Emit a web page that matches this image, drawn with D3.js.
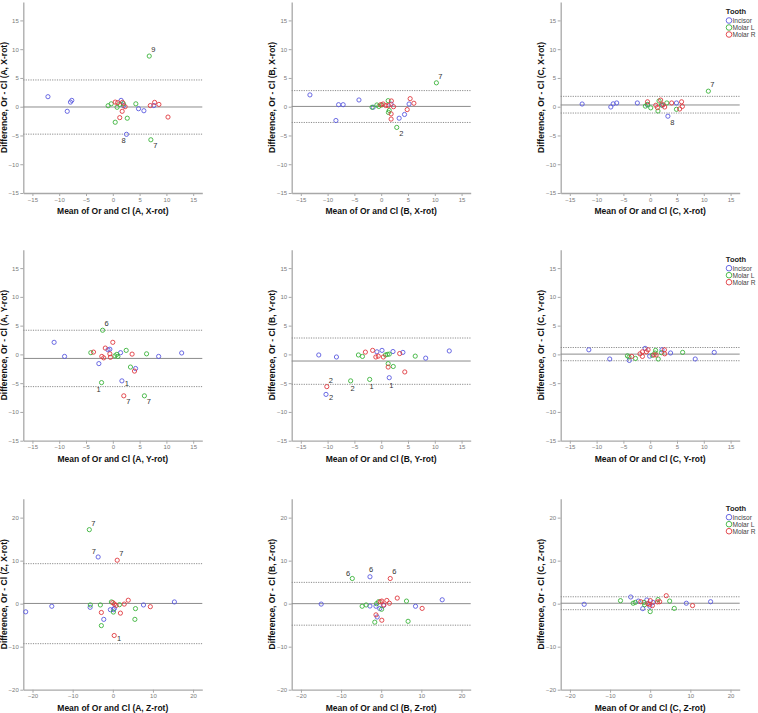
<!DOCTYPE html>
<html><head><meta charset="utf-8">
<script src="https://cdn.jsdelivr.net/npm/d3@7"></script>
<style>body{margin:0;background:#fff}svg{display:block}</style>
</head><body>
<svg id="chart" width="758" height="713"></svg>
<script>
// ---- data ----
const panelIds = ["A, X-rot","B, X-rot","C, X-rot","A, Y-rot","B, Y-rot","C, Y-rot","A, Z-rot","B, Z-rot","C, Z-rot"];
const xLabels = panelIds.map(p => "Mean of Or and Cl (" + p + ")");
const yLabels = ["Difference, Or - Cl (A, X-rot)","Difference, Or - Cl (B, X-rot)","Difference, Or - Cl (C, X-rot)",
  "Difference, Or - Cl (A, Y-rot)","Difference, Or - Cl (B, Y-rot)","Difference, Or - Cl (C, Y-rot)",
  "Difference, Or - Cl (Z, X-rot)","Difference, Or - Cl (B, Z-rot)","Difference, Or - Cl (C, Z-rot)"];
const meanDiff = [-0.05, 0.05, 0.3, -0.7, -1.15, 0.05, 0.05, 0.0, 0.1];
const upperLoA = [4.65, 2.8, 1.8, 4.2, 2.85, 1.2, 9.3, 4.95, 1.6];
const lowerLoA = [-4.77, -2.74, -1.1, -5.6, -5.2, -1.1, -9.3, -5.0, -1.4];
const ticksXY = [-15, -10, -5, 0, 5, 10, 15];
const ticksZ = [-20, -10, 0, 10, 20];
const toothNames = ["Incisor", "Molar L", "Molar R"];

// [mean, difference, optional case label, label side]
const incisorAX = [[-12.1,1.74],[-8.5,-0.8],[-7.9,0.8],[-7.65,1.1],[1.55,1.1],[2.0,0.2],[2.55,-4.8,"8","sw"],[4.8,-0.35],[5.8,-0.7],[7.65,0.2]];
const molarLAX = [[6.8,8.8,"9","ne"],[-0.87,0.17],[-0.3,0.5],[0.8,-0.1],[0.45,-2.7],[2.7,-2.0],[4.3,0.5],[7.1,-5.75,"7","se"],[1.3,0.4],[2.0,0.5]];
const molarRAX = [[0.45,0.8],[0.9,0.7],[1.8,0.75],[1.75,-0.8],[1.3,-1.9],[2.3,0],[7.0,0.2],[7.8,0.75],[8.6,0.4],[10.3,-1.8]];

const incisorBX = [[-13.3,2.05],[-8.45,-2.4],[-7.95,0.35],[-7.1,0.35],[-4.15,1.17],[-1.5,-0.1],[1.85,0.45],[5.2,0.47],[4.35,-1.35],[3.35,-2.0]];
const molarLBX = [[10.3,4.15,"7","ne"],[2.9,-3.6,"2","se"],[-1.7,-0.1],[-0.8,0.3],[-0.45,0.05],[1.3,1.05],[1.5,-0.65],[1.35,-1.0],[0.1,0.3]];
const molarRBX = [[-0.1,0.35],[0.35,0.47],[0.85,0.2],[1.9,1.0],[1.85,-1.25],[1.85,-2.15],[2.3,0],[5.4,1.4],[6.1,0.6],[4.85,-0.5],[1.35,0.2]];

const incisorCX = [[-12.7,0.47],[-7.35,-0.05],[-6.9,0.5],[-6.25,0.65],[-2.4,0.65],[2.25,0.25],[3.3,-1.65,"8","se"],[4.9,0.65],[-0.5,0.3]];
const molarLCX = [[10.85,2.7,"7","ne"],[-0.9,0.1],[-0.5,0.4],[0.1,-0.2],[1.45,-0.75],[1.65,1.0],[3.1,0.65],[4.9,-0.45],[2.1,0.3]];
const molarRCX = [[-0.5,0.85],[1.05,0.25],[1.35,-0.15],[1.95,1.15],[2.7,-0.05],[4.0,0.65],[5.85,0.85],[6.0,0.05],[5.5,-0.4],[2.4,0.35]];

const incisorAY = [[-10.95,2.1],[-9.0,-0.35],[-2.6,-1.6],[-0.9,0.8],[-0.55,0.9],[1.45,0.3],[1.7,-4.6,"1","e"],[4.25,-2.45],[8.55,-0.35],[12.85,0.25]];
const molarLAY = [[-1.9,4.2,"6","ne"],[-4.1,0.3],[-2.1,-4.9,"1","sw"],[0.4,-0.25],[0.75,0.0],[0.95,-0.35],[2.5,0.7],[3.3,-2.2],[6.3,0.1],[5.9,-7.2,"7","se"]];
const molarRAY = [[-3.6,0.4],[-2.05,-0.35],[-1.7,-0.6],[-1.4,1.1],[-0.55,0.1],[-0.45,-0.5],[0,2.1],[2.05,-7.2,"7","se"],[3.6,0.05],[4.05,-2.9]];

const incisorBY = [[-11.65,-0.1],[-8.35,-0.45],[-10.3,-6.95,"2","e"],[-0.8,0.45],[0.15,0.7],[2.2,0.5],[1.5,-4.05,"1","s"],[4.05,0.35],[8.3,-0.65],[12.7,0.6]];
const molarLBY = [[-5.7,-4.6,"2","s"],[-4.25,-0.1],[-3.5,-0.35],[-2.15,-4.35,"1","s"],[0.8,-0.1],[1.15,0],[1.3,-1.6],[2.25,-2.1],[6.35,-0.3],[1.5,0.05]];
const molarRBY = [[-10.15,-5.6,"2","ne"],[-2.95,0.4],[-1.6,0.7],[-1.0,-0.45],[-0.55,-0.3],[0.4,-0.45],[1.3,-2.2],[3.45,0.15],[4.4,-3.05]];

const incisorCY = [[-11.45,0.8],[-7.55,-0.8],[-3.9,-1.05],[-0.95,1.05],[-0.1,-0.3],[2.2,0.8],[3.8,0.25],[8.4,-0.8],[11.95,0.35]];
const molarLCY = [[-4.25,-0.25],[-3.95,-0.45],[-2.75,-0.7],[0.4,-0.15],[0.9,0.25],[1.0,0.7],[1.5,-0.8],[2.1,0.3],[6.05,0.35]];
const molarRCY = [[-3.45,-0.35],[-1.9,0.1],[-1.45,0.45],[-1.45,-0.35],[-0.7,0.45],[-0.4,0.8],[0.7,-0.1],[1.1,-0.1],[2.65,0.8],[2.7,0.1]];

const incisorAZ = [[-21.7,-1.9],[-15.2,-0.6],[-5.65,-0.85],[-3.65,10.85,"7","nw"],[-2.25,-3.65],[-0.6,-1.4],[0.15,-1.4],[0.4,-1.1],[7.65,-0.3],[15.35,0.4]];
const molarLAZ = [[-5.85,17.2,"7","ne"],[-5.6,-0.3],[-3.1,-0.3],[-2.85,-5.1],[-0.35,0.4],[0.15,-1.95],[1.65,-0.25],[5.65,-1.15],[5.5,-3.65]];
const molarRAZ = [[-2.85,-2.05],[0,0.25],[0.4,-0.1],[1.1,10.1,"7","ne"],[0.35,-7.4,"1","e"],[0.85,-0.4],[1.9,-2.2],[2.85,-0.1],[3.85,0.8],[9.35,-0.7]];

const incisorBZ = [[-14.95,-0.1],[-2.8,6.25,"6","n"],[-2.8,-0.55],[-1.3,-0.6],[-1.0,-3.1],[-0.35,-1.15],[0.6,-0.4],[8.55,-0.6],[15.2,0.9]];
const molarLBZ = [[-7.2,5.85,"6","nw"],[-4.75,-0.6],[-3.75,-0.3],[-1.6,-4.3],[-1.15,0],[-0.65,0.45],[0.1,-1.3],[6.3,0.6],[6.7,-4.1]];
const molarRBZ = [[-1.3,-2.6],[-0.25,0.45],[0.15,0.6],[0.15,-3.85],[0.65,-0.3],[1.4,0.75],[2.05,0.1],[2.25,5.85,"6","ne"],[4.0,1.3],[10.2,-1.1]];

const incisorCZ = [[-16.45,-0.15],[-4.85,1.55],[-2.95,0.6],[-1.85,-1.15],[-0.85,0.85],[-0.1,-0.6],[0.7,0.3],[9.0,0.1],[15.05,0.45]];
const molarLCZ = [[-7.4,0.7],[-4.25,0.1],[-3.7,0.3],[-1.55,0.3],[-1.4,-0.25],[0,-1.85],[1.95,0.95],[4.85,0.6],[6.0,-1.1]];
const molarRCZ = [[-2.35,0.45],[-0.6,0],[-0.2,-0.15],[0.05,0.7],[0.55,-0.45],[1.8,0.4],[2.35,0.45],[4.0,1.85],[10.55,-0.45]];

const panelSeries = [
  [incisorAX, molarLAX, molarRAX], [incisorBX, molarLBX, molarRBX], [incisorCX, molarLCX, molarRCX],
  [incisorAY, molarLAY, molarRAY], [incisorBY, molarLBY, molarRBY], [incisorCY, molarLCY, molarRCY],
  [incisorAZ, molarLAZ, molarRAZ], [incisorBZ, molarLBZ, molarRBZ], [incisorCZ, molarLCZ, molarRCZ]
];

// ---- layout / style ----
const colors = ["#5a5ae0", "#3bb33b", "#e0393e"];
const colLeft = [23.3, 291.7, 560.7];
const rowBottom = [193, 440.7, 689.7];
const plotW = 179, plotH = 191;
const labelOffset = {ne:[4,-6.5], se:[4.5,6], sw:[-3,6.5], nw:[-4.3,-5], s:[2,7.5], n:[1,-7.5], e:[5,3]};
const font = "Liberation Sans, Arial, Helvetica, sans-serif";

const svg = d3.select("#chart");

panelIds.forEach((pid, i) => {
  const row = Math.floor(i / 3), col = i % 3;
  const left = colLeft[col], bottom = rowBottom[row], top = bottom - plotH;
  const isZ = row === 2;
  const x = d3.scaleLinear().domain(isZ ? [-22.3, 22.3] : [-16.7, 16.7]).range([left, left + plotW]);
  const y = d3.scaleLinear().domain(isZ ? [-20, 24.4] : [-15, 18.2]).range([bottom, top]);
  const ticks = isZ ? ticksZ : ticksXY;
  const g = svg.append("g");

  // axes
  const xa = g.append("g").attr("transform", `translate(0,${bottom})`)
    .call(d3.axisBottom(x).tickValues(ticks).tickSize(3).tickSizeOuter(0).tickPadding(1.5));
  const ya = g.append("g").attr("transform", `translate(${left},0)`)
    .call(d3.axisLeft(y).tickValues(ticks).tickSize(3).tickSizeOuter(0).tickPadding(1.5));
  [xa, ya].forEach(a => {
    a.select(".domain").attr("stroke", "#a8a8a8").attr("stroke-width", 1.3);
    a.selectAll(".tick line").attr("stroke", "#a8a8a8");
    a.selectAll(".tick text").attr("fill", "#7a7a7a").attr("font-size", 6).attr("font-family", font);
  });

  // reference lines
  const line = (v, dash) => g.append("line")
    .attr("x1", left).attr("x2", left + plotW).attr("y1", y(v)).attr("y2", y(v))
    .attr("stroke", "#8c8c8c").attr("stroke-width", 1)
    .attr("stroke-dasharray", dash);
  line(meanDiff[i], null);
  line(upperLoA[i], "1.2,1.2");
  line(lowerLoA[i], "1.2,1.2");

  // points
  panelSeries[i].forEach((series, s) => {
    g.append("g").selectAll("circle").data(series).join("circle")
      .attr("cx", d => x(d[0])).attr("cy", d => y(d[1])).attr("r", 2.1)
      .attr("fill", "none").attr("stroke", colors[s]).attr("stroke-width", 0.9);
    g.append("g").selectAll("text").data(series.filter(d => d[2])).join("text")
      .attr("x", d => x(d[0]) + labelOffset[d[3]][0])
      .attr("y", d => y(d[1]) + labelOffset[d[3]][1])
      .attr("text-anchor", "middle").attr("dominant-baseline", "central")
      .attr("font-size", 7.5).attr("font-family", font).attr("fill", "#333")
      .text(d => d[2]);
  });

  // axis titles
  g.append("text").attr("x", left + plotW / 2).attr("y", bottom + 21)
    .attr("text-anchor", "middle").attr("font-size", 8.5).attr("font-weight", "bold")
    .attr("font-family", font).attr("fill", "#111").text(xLabels[i]);
  g.append("text").attr("transform", `translate(${left - 16.5},${top + plotH / 2}) rotate(-90)`)
    .attr("text-anchor", "middle").attr("font-size", 8.5).attr("font-weight", "bold")
    .attr("font-family", font).attr("fill", "#111").text(yLabels[i]);

  // legend (right column)
  if (col === 2) {
    const lg = g.append("g");
    lg.append("text").attr("x", 736).attr("y", top + 9.5).attr("dominant-baseline", "central")
      .attr("text-anchor", "middle").attr("font-size", 7.5).attr("font-weight", "bold")
      .attr("font-family", font).attr("fill", "#222").text("Tooth");
    toothNames.forEach((name, k) => {
      const cy = top + 18.5 + k * 7;
      lg.append("circle").attr("cx", 729).attr("cy", cy).attr("r", 2.8)
        .attr("fill", "none").attr("stroke", colors[k]).attr("stroke-width", 0.9);
      lg.append("text").attr("x", 732.5).attr("y", cy).attr("dominant-baseline", "central")
        .attr("font-size", 6.6).attr("font-family", font).attr("fill", "#444").text(name);
    });
  }
});
</script>
</body></html>
